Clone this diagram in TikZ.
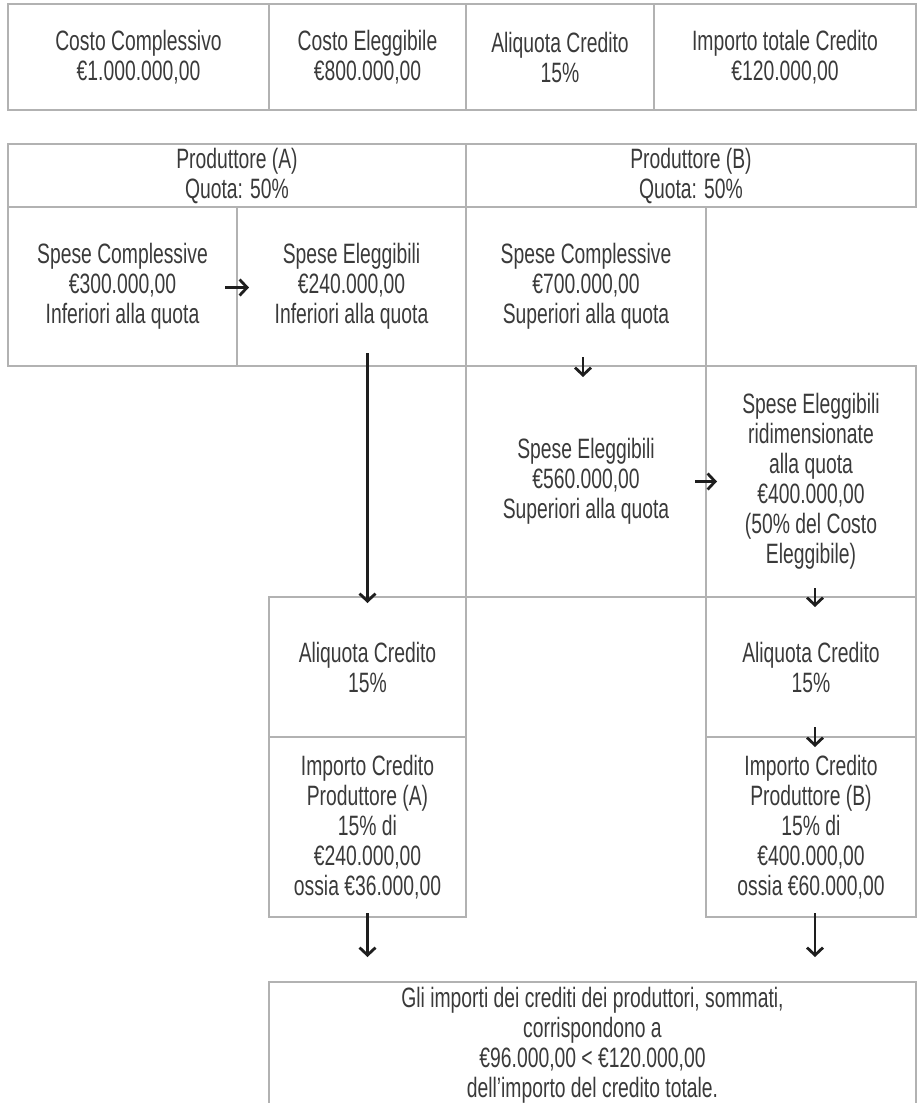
\documentclass[tikz,border=0pt]{standalone}
\usepackage{fontspec}
\setmainfont{Liberation Sans}[FakeStretch=0.69]
\usetikzlibrary{arrows.meta,calc}

\definecolor{rule}{HTML}{B2B2B2}
\definecolor{ink}{HTML}{3A3A3A}
\definecolor{arrowink}{HTML}{1E1E1E}

\tikzset{
  txt/.style={align=center, text=ink, inner sep=0pt, font=\fontsize{28}{30}\selectfont},
  cell/.style 2 args={txt, draw=rule, line width=1.5pt, minimum width=#1pt,
    minimum height=#2pt, outer sep=0pt},
  grid/.style={draw=rule, line width=1.5pt},
  arr/.style={draw=arrowink, line width=2.8pt,
    -{Straight Barb[length=7.5pt,width=16pt]}},
}

\begin{document}
\begin{tikzpicture}[x=1pt,y=1pt]
\useasboundingbox (0,0) rectangle (917,-1103);
\clip (0,0) rectangle (917,-1103);

% summary table
\node[cell={261}{106}] (t1) at (138.5,-57) {Costo Complessivo\\€1.000.000,00};
\node[cell={197}{106}] (t2) at (367.5,-57) {Costo Eleggibile\\€800.000,00};
\node[cell={188}{106}] (t3) at (560,-57) {Aliquota Credito\\15\%};
\node[cell={262}{106}] (t4) at (785,-57) {Importo totale Credito\\€120.000,00};

% producers
\node[cell={458}{63}] (prodA) at (237,-175.5) {Produttore (A)\\Quota: 50\%};
\node[cell={450}{63}] (prodB) at (691,-175.5) {Produttore (B)\\Quota: 50\%};

% expenses
\node[cell={229}{159}] (a1) at (122.5,-286.5) {Spese Complessive\\€300.000,00\\Inferiori alla quota};
\node[cell={229}{159}] (a2) at (351.5,-286.5) {Spese Eleggibili\\€240.000,00\\Inferiori alla quota};
\node[cell={240}{159}] (b1) at (586,-286.5) {Spese Complessive\\€700.000,00\\Superiori alla quota};
\node[cell={240}{231}] (b2) at (586,-481.5) {Spese Eleggibili\\€560.000,00\\Superiori alla quota};
\node[cell={210}{231}] (b3) at (811,-481.5) {Spese Eleggibili\\ridimensionate\\alla quota\\€400.000,00\\(50\% del Costo\\Eleggibile)};

% credit rates
\node[cell={197}{140}] (aliqA) at (367.5,-667) {Aliquota Credito\\15\%};
\node[cell={210}{140}] (aliqB) at (811,-667) {Aliquota Credito\\15\%};

% credit amounts
\node[cell={197}{180}] (impA) at (367.5,-827) {Importo Credito\\Produttore (A)\\15\% di\\€240.000,00\\ossia €36.000,00};
\node[cell={210}{180}] (impB) at (811,-827) {Importo Credito\\Produttore (B)\\15\% di\\€400.000,00\\ossia €60.000,00};

% final statement, box open at the bottom
\coordinate (sumNW) at (269,-982);
\coordinate (sumNE) at (916,-982);
\draw[grid] ($(sumNW)+(0,-140)$) -- (sumNW) -- (sumNE) -- ++(0,-140);
\node[txt] (summary) at (592.5,-1045)
  {Gli importi dei crediti dei produttori, sommati,\\corrispondono a\\€96.000,00 < €120.000,00\\dell’importo del credito totale.};

% flow arrows
\draw[arr] ($(a1.east)+(-12,-1)$) -- ($(a2.west)+(12,-1)$);
\draw[arr] ($(b1.south)+(-3,9)$) -- ($(b2.north)+(-3,-11)$);
\draw[arr] ($(b2.east)+(-11,0)$) -- ($(b3.west)+(11,0)$);
\draw[arr] ($(b3.south)+(4,9)$) -- ($(aliqB.north)+(4,-10)$);
\draw[arr] ($(aliqB.south)+(4,10)$) -- ($(impB.north)+(4,-10)$);
\draw[arr] ($(aliqA.north |- a2.south)+(0,13)$) -- ($(aliqA.north)+(0,-6)$);
\draw[arr] ($(impA.south)+(0,4)$) -- ($(impA.south |- sumNW)+(0,25)$);
\draw[arr] ($(impB.south)+(4,4)$) -- ($(impB.south |- sumNW)+(4,25)$);
\end{tikzpicture}
\end{document}
